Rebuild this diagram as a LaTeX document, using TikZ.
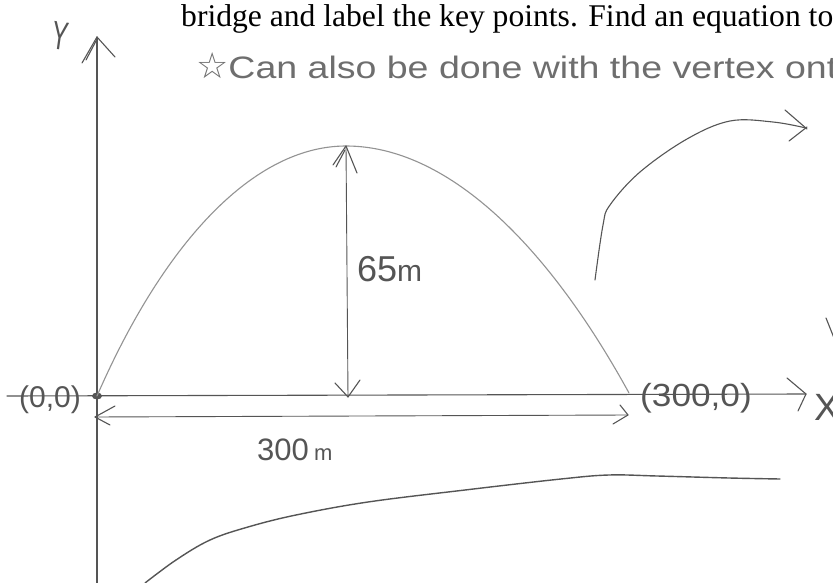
\documentclass[tikz,border=0pt]{standalone}
\usepackage{fontspec}
\setmainfont{Liberation Serif}
\newfontfamily\hand{Liberation Sans}
\newfontfamily\sym{DejaVu Sans}
\definecolor{pencil}{HTML}{555555}
\definecolor{lightpencil}{HTML}{939393}
\definecolor{notegray}{HTML}{6E6E6E}
\begin{document}
\begin{tikzpicture}[x=1pt,y=-1pt,
  pen/.style={draw=pencil, line width=1.1pt, line cap=round, line join=round},
  faint/.style={draw=lightpencil, line width=1.1pt, line cap=round, line join=round},
  hw/.style={font=\hand, text=pencil, inner sep=0pt}]
\useasboundingbox (0,0) rectangle (833,583);
\clip (0,0) rectangle (833,583);
\fill[white] (0,0) rectangle (833,583);

% printed question text
\node[anchor=base west, inner sep=0pt, font=\fontsize{31.6}{32}\selectfont] (prompt) at (181,27)
  {bridge and label the key points. Find an equation to};
% handwritten note
\node[anchor=base west, inner sep=0pt, text=notegray] (note) at (196,79)
  {{\sym\fontsize{36}{36}\selectfont ☆}{\hand\fontsize{31}{31}\selectfont\scalebox{1.21}[1]{Can also be done with the vertex ont}}};

% y axis
\coordinate (ytip) at (97,37);
\coordinate (ybot) at (97,583);
\draw[pen] (ybot) -- (ytip);
\draw[pen] (82,63) -- (ytip) -- (115,57);
\draw[pen] (86,60) -- (96,41);
\node[hw, font=\hand\fontsize{40}{40}\selectfont, rotate=-8] (ylab) at (60,36) {\scalebox{0.6}[1]{Y}};

% x axis
\coordinate (xl) at (7,396);
\coordinate (xr) at (806,394);
\draw[pen] (xl) -- (xr);
\draw[pen] (787,378) -- (xr) -- (798,411);
\node[hw, font=\hand\fontsize{38}{38}\selectfont] (xlab) at (827,407) {X};

% origin and end labels
\coordinate (O) at (97,396);
\coordinate (E) at (629,393);
\coordinate (V) at (346,146);
\fill[pencil] (O) ellipse (5 and 3.5);
\node[hw, font=\hand\fontsize{30}{30}\selectfont] (olab) at (50,400) {(0,0)};
\node[hw, font=\hand\fontsize{32}{32}\selectfont] (elab) at (696,398) {\scalebox{1.1}[1]{(300,0)}};

% parabola
\draw[faint] (O) .. controls (165,240) and (255,146) .. (V) .. controls (445,146) and (545,240) .. (E);

% vertical height arrow
\coordinate (vb) at (348,397);
\draw[pen, line width=0.9pt] (V) -- (vb);
\draw[pen] (333,165) -- (V) -- (357,173);
\draw[pen] (336,167) -- (345,150);
\draw[pen] (335,383) -- (vb) -- (360,380);
\node[hw, anchor=base west, font=\hand\fontsize{36}{36}\selectfont] (hlab) at (357,281) {65{\fontsize{30}{30}\selectfont m}};

% horizontal width arrow
\coordinate (hl) at (95,417);
\coordinate (hr) at (628,415);
\draw[pen, line width=0.9pt] (hl) -- (hr);
\draw[pen] (115,406) -- (hl) -- (110,425);
\draw[pen] (620,405) -- (hr) -- (613,424);
\node[hw, anchor=base west, font=\hand\fontsize{31}{31}\selectfont] (wlab) at (257,460) {300\,{\fontsize{22}{22}\selectfont m}};

% curved arrow top right
\coordinate (cs) at (595,280);
\coordinate (ce) at (806,128);
\draw[pen] plot[smooth, tension=0.6] coordinates {(cs) (603,225) (610,205) (640,172) (687,139) (730,121) (773,122) (ce)};
\draw[pen] (785,110) -- (807,129);
\draw[pen] (789,141) -- (807,127);

% stray stroke at right edge
\draw[pen] (826,318) -- (834,338);

% lower curve
\coordinate (ls) at (145,583);
\coordinate (le) at (780,479);
\draw[pen, line width=1.4pt] plot[smooth, tension=0.6] coordinates {(ls) (176,560) (210,540) (248,527) (296,515) (368,502) (465,490) (561,479) (609,475) (657,476) (729,478) (le)};
\end{tikzpicture}
\end{document}
